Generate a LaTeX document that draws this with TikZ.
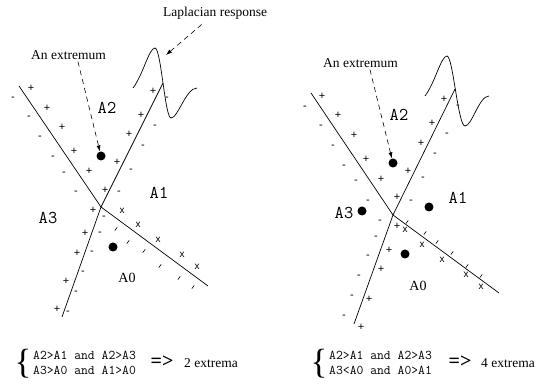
\documentclass[tikz,border=0pt]{standalone}
\usepackage{fontspec}
\setmainfont{Liberation Serif}
\setsansfont{Liberation Sans}
\usetikzlibrary{arrows.meta}
\begin{document}
\begin{tikzpicture}[x=1pt,y=-1pt,
  border/.style={line width=0.7pt},
  pm/.style={font=\sffamily\fontsize{11}{11}\selectfont, inner sep=0pt},
  xm/.style={font=\sffamily\fontsize{10}{10}\selectfont, inner sep=0pt},
  tk/.style={line width=0.6pt},
  region/.style={font=\ttfamily\fontsize{18}{18}\selectfont, inner sep=0pt},
  regserif/.style={font=\fontsize{14}{14}\selectfont, inner sep=0pt},
  caption/.style={font=\fontsize{13.5}{13.5}\selectfont, inner sep=0pt, anchor=west},
  dot/.style={circle, fill=black, minimum size=9pt, inner sep=0pt},
  ptr/.style={dash pattern=on 5pt off 4pt, -{Latex[length=6pt,width=4pt]}, line width=0.6pt},
  wave/.style={line width=0.7pt},
  cond/.style={anchor=west, inner sep=0pt, font=\ttfamily\fontsize{13.3}{15}\selectfont, align=left},
  brace/.style={inner sep=0pt, font=\fontsize{35}{35}\selectfont},
  impl/.style={font=\bfseries\fontsize{20}{20}\selectfont, inner sep=0pt},
]
\useasboundingbox (0,0) rectangle (536,387);

% ================= LEFT DIAGRAM =================
\coordinate (L1a) at (19,86);
\coordinate (Lc)  at (101,207);
\coordinate (L1b) at (208,286);
\coordinate (L2a) at (163,83);
\coordinate (L2b) at (62,317);
\draw[border] (L1a) -- (Lc) -- (L1b);
\draw[border] (L2a) -- (Lc) -- (L2b);

\draw[wave] (133,88) .. controls (143,75) and (149,48) .. (155,48)
  .. controls (161,48) and (165,118) .. (171,118)
  .. controls (178,118) and (186,88) .. (197,88);

\node[caption] (lap) at (163,13) {Laplacian response};
\coordinate (lapTip) at (166,55);
\draw[ptr, shorten <=8pt] (lap) -- (lapTip);

\node[caption] (extL) at (31,55) {An extremum};
\node[dot] (dL1) at (101,156) {};
\node[dot] (dL2) at (113,247) {};
\draw[ptr, shorten <=2pt] ([xshift=9pt]extL.south) -- (dL1);

\node[region] (lA2) at (107,108) {A2};
\node[region] (lA1) at (159,193) {A1};
\node[region] (lA3) at (48,218) {A3};
\node[regserif] (lA0) at (127,278) {A0};

\foreach \p [count=\i] in {(31,88),(47,108),(62,127),(74,151),(89,171)}
  \node[pm] (lpa\i) at \p {+};
\foreach \p [count=\i] in {(13,99),(29,118),(40,138),(53,158),(64,174),(76,193)}
  \node[pm] (lma\i) at \p {-};
\foreach \p [count=\i] in {(153,91),(141,115),(129,134),(117,162),(105,190)}
  \node[pm] (lpb\i) at \p {+};
\foreach \p [count=\i] in {(167,99),(155,127),(143,147),(131,171),(119,193)}
  \node[pm] (lmb\i) at \p {-};
\foreach \p [count=\i] in {(93,210),(85,233),(77,253),(66,281),(57,309)}
  \node[pm] (lpc\i) at \p {+};
\foreach \p [count=\i] in {(104,218),(100,234),(92,253),(83,273),(76,293),(68,313)}
  \node[pm] (lmc\i) at \p {-};
\foreach \p [count=\i] in {(122,211),(138,225),(158,240),(182,255),(197,267)}
  \node[xm] (lx\i) at \p {x};
\foreach \p in {(116,229),(128,242),(144,251),(160,266),(179,278),(193,287)}
  \draw[tk] \p ++(-1.2,1.6) -- ++(2.4,-3.2);

% ================= RIGHT DIAGRAM =================
\coordinate (R1a) at (311,93);
\coordinate (Rc)  at (393,215);
\coordinate (R1b) at (499,293);
\coordinate (R2a) at (455,89);
\coordinate (R2b) at (354,324);
\draw[border] (R1a) -- (Rc) -- (R1b);
\draw[border] (R2a) -- (Rc) -- (R2b);

\begin{scope}[shift={(292,8)}]
\draw[wave] (133,88) .. controls (143,75) and (149,48) .. (155,48)
  .. controls (161,48) and (166,118) .. (173,118)
  .. controls (180,118) and (187,88) .. (197,88);
\end{scope}

\node[caption] (extR) at (323,63) {An extremum};
\node[dot] (dR1) at (393,163) {};
\node[dot] (dR2) at (362,211) {};
\node[dot] (dR3) at (429,207) {};
\node[dot] (dR4) at (405,254) {};
\draw[ptr, shorten <=2pt] ([xshift=9pt]extR.south) -- (dR1);

\node[region] (rA2) at (399,115) {A2};
\node[region] (rA1) at (458,198) {A1};
\node[region] (rA3) at (344,213) {A3};
\node[regserif] (rA0) at (418,286) {A0};

\foreach \p [count=\i] in {(322,96),(338,115),(354,135),(366,159),(381,179)}
  \node[pm] (rpa\i) at \p {+};
\foreach \p [count=\i] in {(305,108),(321,127),(333,147),(344,167),(356,182),(368,202)}
  \node[pm] (rma\i) at \p {-};
\foreach \p [count=\i] in {(444,99),(432,123),(421,143),(408,171),(397,197)}
  \node[pm] (rpb\i) at \p {+};
\foreach \p [count=\i] in {(458,107),(447,135),(435,155),(423,179),(411,202)}
  \node[pm] (rmb\i) at \p {-};
\foreach \p [count=\i] in {(397,226),(389,250),(381,269),(369,299),(361,327)}
  \node[pm] (rpc\i) at \p {+};
\foreach \p [count=\i] in {(380,222),(376,238),(368,257),(359,277),(352,297),(344,317)}
  \node[pm] (rmc\i) at \p {-};
\foreach \p [count=\i] in {(405,230),(422,245),(442,260),(466,275),(481,287)}
  \node[xm] (rx\i) at \p {x};
\foreach \p in {(407,222),(425,233),(437,242),(452,253),(467,266),(481,276)}
  \draw[tk] \p ++(-1.2,1.6) -- ++(2.4,-3.2);

% ================= CONDITIONS =================
\node[brace] (brL) at (23,364) {\{};
\node[cond] (condL) at (33,363) {A2>A1 and A2>A3\\A3>A0 and A1>A0};
\node[impl] (impL) at (162,362) {=>};
\node[caption] (resL) at (184,363) {2 extrema};

\node[brace] (brR) at (319,364) {\{};
\node[cond] (condR) at (329,363) {A2>A1 and A2>A3\\A3<A0 and A0>A1};
\node[impl] (impR) at (460,362) {=>};
\node[caption] (resR) at (481,363) {4 extrema};
\end{tikzpicture}
\end{document}
